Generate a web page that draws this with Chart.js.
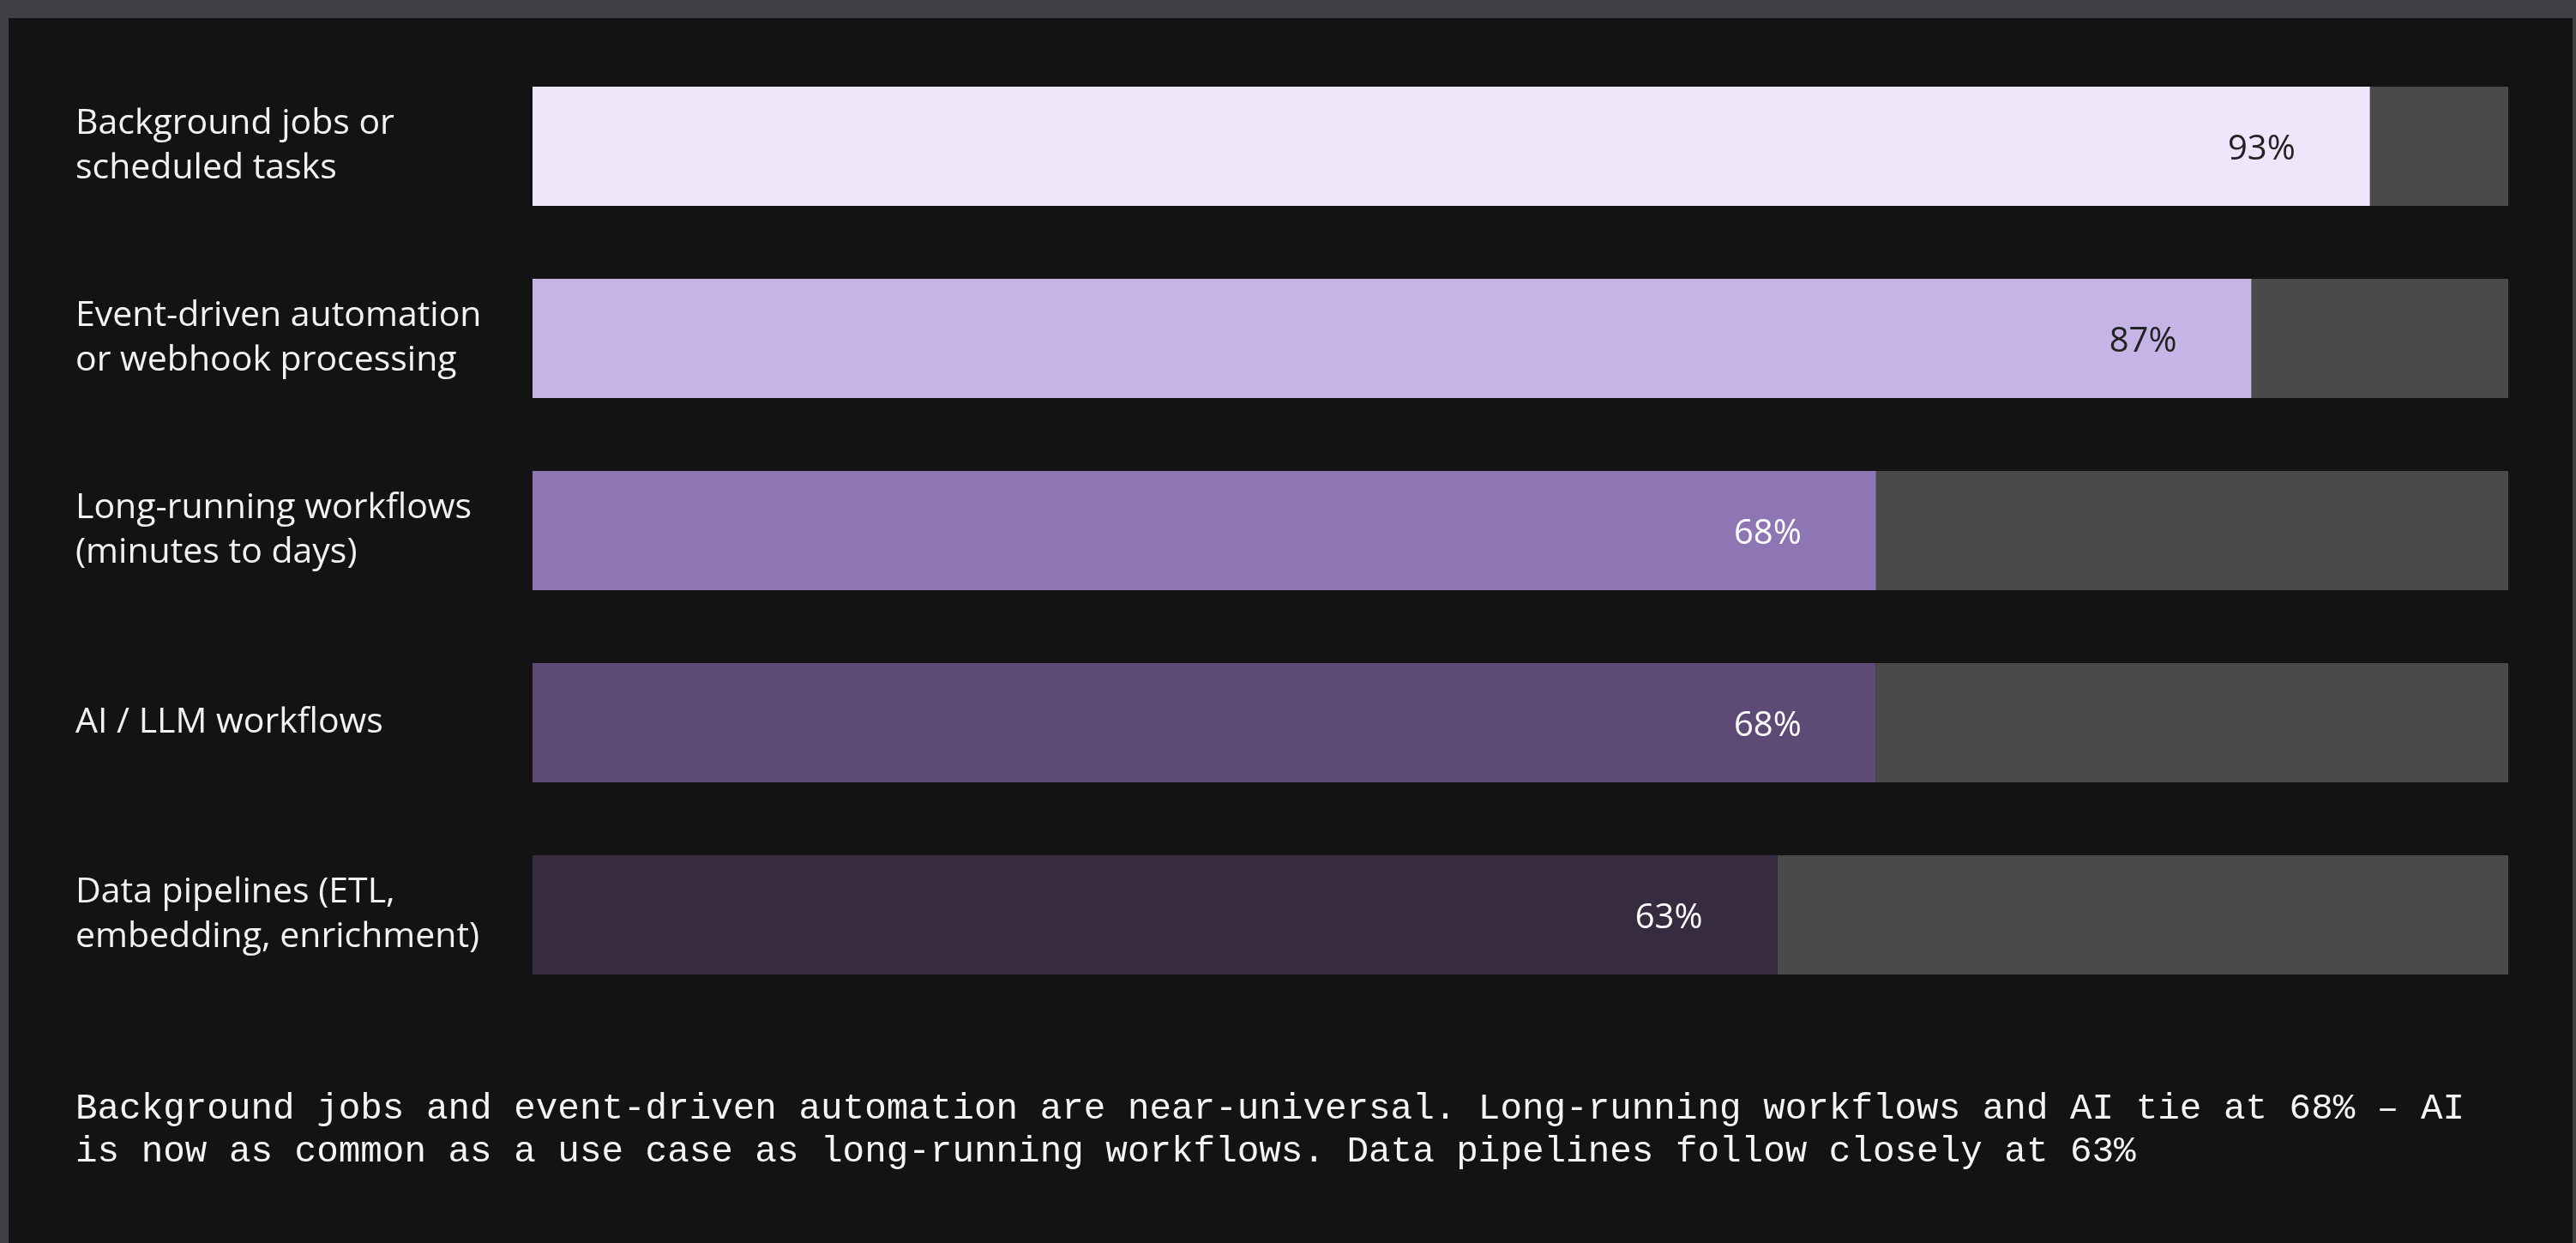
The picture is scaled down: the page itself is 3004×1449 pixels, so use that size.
<!DOCTYPE html>
<html>
<head>
<meta charset="utf-8">
<script src="https://cdn.jsdelivr.net/npm/chart.js@4/dist/chart.umd.min.js"></script>
<style>
  html, body { margin: 0; padding: 0; }
  body { width: 3004px; height: 1449px; background: #413f44; position: relative; overflow: hidden; }
  #panel { position: absolute; left: 10px; top: 21px; width: 2990px; height: 1428px; background: #131313; }
  #chart { position: absolute; left: 0; top: 0; }
  #note {
    position: absolute; left: 88px; top: 1268px;
    font-family: "Liberation Mono", "DejaVu Sans Mono", monospace;
    font-size: 42.6px; line-height: 50px; color: #f4f4f4; white-space: pre;
  }
</style>
</head>
<body>
<div id="panel"></div>
<canvas id="chart" width="3004" height="1449"></canvas>
<div id="note">Background jobs and event-driven automation are near-universal. Long-running workflows and AI tie at 68% – AI
is now as common as a use case as long-running workflows. Data pipelines follow closely at 63%</div>
<script>
  // === data ===
  const categories = [
    ["Background jobs or", "scheduled tasks"],
    ["Event-driven automation", "or webhook processing"],
    ["Long-running workflows", "(minutes to days)"],
    "AI / LLM workflows",
    ["Data pipelines (ETL,", "embedding, enrichment)"]
  ];
  const shares = [93, 87, 68, 68, 63];
  const valueLabels = ["93%", "87%", "68%", "68%", "63%"];

  // styles
  const barColors = ["#eee6fa", "#c6b4e6", "#8e76b5", "#5d4a75", "#372b40"];
  const labelColors = ["#222222", "#222222", "#ffffff", "#ffffff", "#ffffff"];
  const trackColor = "#4a4a4a";
  const sansFont = "'Open Sans', Roboto, sans-serif";

  const rest = shares.map(v => 100 - v);

  // value text inside the end of each bar
  const valueLabelPlugin = {
    id: "valueLabels",
    afterDatasetsDraw(chart) {
      const ctx = chart.ctx;
      const meta = chart.getDatasetMeta(0);
      ctx.save();
      ctx.font = "40px " + sansFont;
      ctx.textAlign = "right";
      ctx.textBaseline = "alphabetic";
      meta.data.forEach((bar, i) => {
        ctx.fillStyle = labelColors[i];
        ctx.fillText(valueLabels[i], bar.x - 87, bar.y + 15);
      });
      ctx.restore();
    }
  };

  const canvas = document.getElementById("chart");
  new Chart(canvas.getContext("2d"), {
    type: "bar",
    data: {
      labels: categories,
      datasets: [
        { data: shares, backgroundColor: barColors, borderWidth: 0 },
        { data: rest, backgroundColor: trackColor, borderWidth: 0 }
      ]
    },
    options: {
      indexAxis: "y",
      responsive: false,
      animation: false,
      devicePixelRatio: 1,
      barPercentage: 0.6205,
      categoryPercentage: 1,
      layout: { padding: { left: 88, right: 79, top: 58.5, bottom: 270.5 } },
      plugins: { legend: { display: false }, tooltip: { enabled: false } },
      scales: {
        x: { stacked: true, min: 0, max: 100, display: false },
        y: {
          stacked: true,
          grid: { display: false },
          border: { display: false },
          afterFit: (scale) => { scale.width = 533; },
          ticks: {
            crossAlign: "far",
            color: "#f2f2f2",
            font: { family: sansFont, size: 41, lineHeight: 1.27 },
            padding: 0
          }
        }
      }
    },
    plugins: [valueLabelPlugin]
  });
</script>
</body>
</html>
